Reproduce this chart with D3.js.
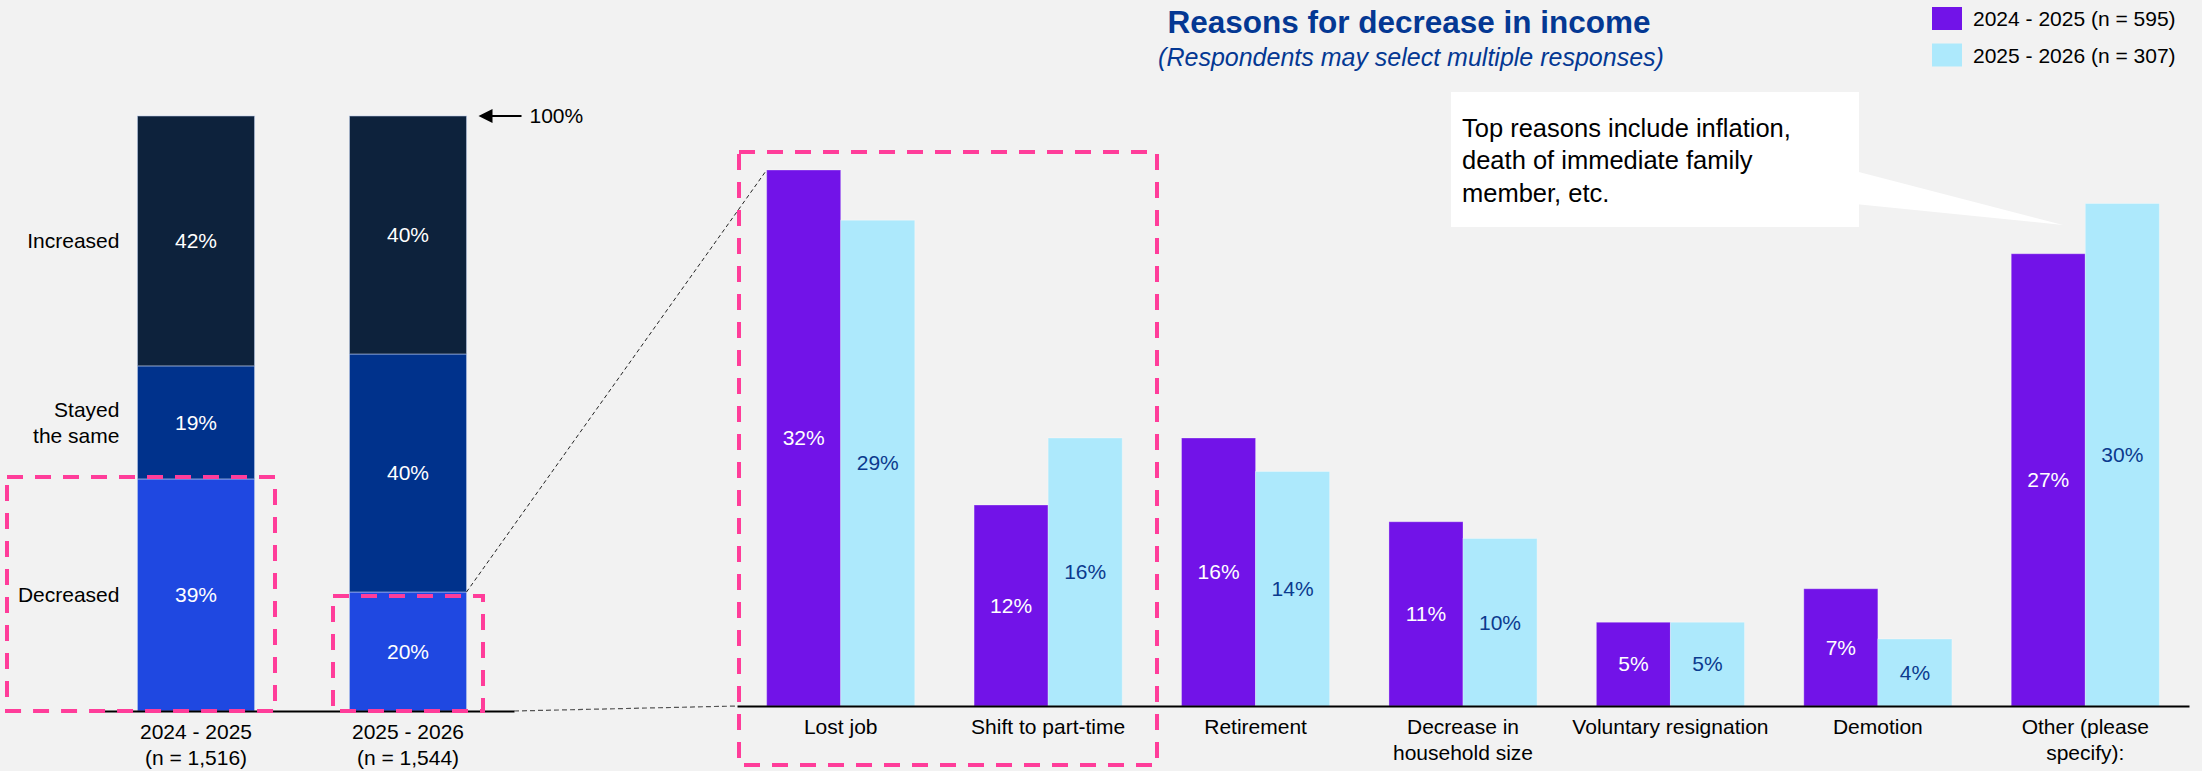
<!DOCTYPE html>
<html>
<head>
<meta charset="utf-8">
<script src="https://cdn.jsdelivr.net/npm/d3@7"></script>
<style>
  html, body { margin: 0; padding: 0; background: #f2f2f2; }
  svg { display: block; font-family: 'Liberation Sans', Arial, Helvetica, sans-serif; }
</style>
</head>
<body>
<svg id="chart" width="2202" height="771"></svg>
<script>
// ---- Change in household income by survey period (stacked shares, %) ----
const periods = ["2024 - 2025", "2025 - 2026"];
const periodSamples = ["(n = 1,516)", "(n = 1,544)"];
const changeLevels = ["Decreased", "Stayed\nthe same", "Increased"];   // bottom to top
const decreasedShare = [39, 20];
const stayedShare = [19, 40];
const increasedShare = [42, 40];

// ---- Reasons for decrease in income (multiple responses, %) ----
const reasons = ["Lost job", "Shift to part-time", "Retirement", "Decrease in\nhousehold size",
                 "Voluntary resignation", "Demotion", "Other (please\nspecify):"];
const seriesNames = ["2024 - 2025 (n = 595)", "2025 - 2026 (n = 307)"];
const reasons2425 = [32, 12, 16, 11, 5, 7, 27];
const reasons2526 = [29, 16, 14, 10, 5, 4, 30];
const calloutLines = ["Top reasons include inflation,", "death of immediate family", "member, etc."];

const svg = d3.select("#chart");
svg.append("rect").attr("width", 2202).attr("height", 771).attr("fill", "#f2f2f2");

const PINK = "#FF3D9A";
const FS = 21;

// ================= Left: stacked 100% bars =================
const xL = d3.scaleBand().domain(periods).range([90, 514]).paddingInner(0.448).paddingOuter(0.224);
const yL = d3.scaleLinear().domain([0, 100]).range([711, 116]);
const levelColor = d3.scaleOrdinal().domain(changeLevels).range(["#1F48E1", "#00328C", "#0D223C"]);

const stackRows = periods.map((p, i) => ({
  period: p,
  [changeLevels[0]]: decreasedShare[i],
  [changeLevels[1]]: stayedShare[i],
  [changeLevels[2]]: increasedShare[i]
}));
const stacked = d3.stack().keys(changeLevels)(stackRows);

const left = svg.append("g");
const layer = left.selectAll("g.layer").data(stacked).join("g").attr("class", "layer")
  .attr("fill", d => levelColor(d.key));
layer.selectAll("rect").data(d => d).join("rect")
  .attr("x", d => xL(d.data.period))
  .attr("y", d => yL(d[1]))
  .attr("width", xL.bandwidth())
  .attr("height", d => yL(d[0]) - yL(d[1]))
  .attr("stroke", "rgba(190,205,235,0.55)")
  .attr("stroke-width", 1);
layer.selectAll("text").data(d => d).join("text")
  .attr("x", d => xL(d.data.period) + xL.bandwidth() / 2)
  .attr("y", d => (yL(d[0]) + yL(d[1])) / 2)
  .attr("dy", "0.35em")
  .attr("text-anchor", "middle")
  .attr("fill", "#ffffff")
  .attr("font-size", FS)
  .text(d => (d[1] - d[0]) + "%");

// category labels beside the first column
const firstCol = stacked.map(s => s[0]);
left.selectAll("text.level").data(stacked).join("text").attr("class", "level")
  .attr("x", xL(periods[0]) - 18)
  .attr("y", d => (yL(d[0][0]) + yL(d[0][1])) / 2)
  .attr("text-anchor", "end")
  .attr("font-size", FS)
  .attr("fill", "#000")
  .each(function (d) {
    const lines = d.key.split("\n");
    const t = d3.select(this);
    lines.forEach((ln, k) => {
      t.append("tspan").attr("x", xL(periods[0]) - 18)
        .attr("dy", k === 0 ? (0.35 - (lines.length - 1) * 0.62) + "em" : "1.24em")
        .text(ln);
    });
  });

// bottom axis
const axL = left.append("g").attr("transform", `translate(0,${yL(0)})`)
  .call(d3.axisBottom(xL).tickSize(0).tickSizeOuter(0));
axL.attr("font-size", FS).attr("font-family", null).style("color", "#000");
axL.select(".domain").attr("stroke", "#000").attr("stroke-width", 2);
axL.selectAll(".tick text").attr("dy", null).attr("y", null).text(null)
  .each(function (d, i) {
    const t = d3.select(this);
    [d, periodSamples[i]].forEach((ln, k) => {
      t.append("tspan").attr("x", 0).attr("y", 21 + k * 25.5).attr("dy", "0.35em").text(ln);
    });
  });

// 100% marker
const topY = yL(100);
const arrowX = xL(periods[1]) + xL.bandwidth() + 12;
left.append("path")
  .attr("d", `M${arrowX},${topY} l14,-7 v14 z`).attr("fill", "#000");
left.append("line").attr("x1", arrowX + 10).attr("x2", arrowX + 43)
  .attr("y1", topY).attr("y2", topY).attr("stroke", "#000").attr("stroke-width", 2);
left.append("text").attr("x", arrowX + 51).attr("y", topY).attr("dy", "0.35em")
  .attr("font-size", FS).attr("fill", "#000").text("100%");

// ================= Right: grouped bars =================
const xR = d3.scaleBand().domain(reasons).range([737, 2189]).paddingInner(0.286).paddingOuter(0.143);
const xSub = d3.scaleBand().domain(seriesNames).range([0, xR.bandwidth()]);
const yR = d3.scaleLinear().domain([0, 35]).range([706, 119.75]);
const seriesColor = d3.scaleOrdinal().domain(seriesNames).range(["#7213E8", "#ADE9FC"]);
const labelColor = d3.scaleOrdinal().domain(seriesNames).range(["#ffffff", "#0B3A8E"]);

const rows = reasons.map((r, i) => ({ reason: r, values: [reasons2425[i], reasons2526[i]] }));
const right = svg.append("g");

// zoom connector lines between the two panels
svg.append("line")
  .attr("x1", xL(periods[1]) + xL.bandwidth()).attr("y1", yL(decreasedShare[1]))
  .attr("x2", xR(reasons[0])).attr("y2", yR(reasons2425[0]))
  .attr("stroke", "#222").attr("stroke-width", 1).attr("stroke-dasharray", "4,3");
svg.append("line")
  .attr("x1", 514).attr("y1", yL(0))
  .attr("x2", 737).attr("y2", yR(0))
  .attr("stroke", "#555").attr("stroke-width", 1.2).attr("stroke-dasharray", "5,3");

const grp = right.selectAll("g.grp").data(rows).join("g").attr("class", "grp")
  .attr("transform", d => `translate(${xR(d.reason)},0)`);
grp.selectAll("rect").data(d => d.values.map((v, j) => ({ s: seriesNames[j], v })))
  .join("rect")
  .attr("x", d => xSub(d.s))
  .attr("y", d => yR(d.v))
  .attr("width", xSub.bandwidth())
  .attr("height", d => yR(0) - yR(d.v))
  .attr("fill", d => seriesColor(d.s))
  .attr("stroke", "rgba(255,255,255,0.3)")
  .attr("stroke-width", 1);
grp.selectAll("text").data(d => d.values.map((v, j) => ({ s: seriesNames[j], v })))
  .join("text")
  .attr("x", d => xSub(d.s) + xSub.bandwidth() / 2)
  .attr("y", d => (yR(d.v) + yR(0)) / 2)
  .attr("dy", "0.35em")
  .attr("text-anchor", "middle")
  .attr("font-size", FS)
  .attr("fill", d => labelColor(d.s))
  .text(d => d.v + "%");

const axR = right.append("g").attr("transform", `translate(0,${yR(0)})`)
  .call(d3.axisBottom(xR).tickSize(0).tickSizeOuter(0));
axR.attr("font-size", FS).attr("font-family", null).style("color", "#000");
axR.select(".domain").attr("stroke", "#000").attr("stroke-width", 2);
axR.selectAll(".tick text").attr("dy", null).attr("y", null).text(null)
  .each(function (d) {
    const t = d3.select(this);
    d.split("\n").forEach((ln, k) => {
      t.append("tspan").attr("x", 0).attr("y", 21 + k * 26).attr("dy", "0.35em").text(ln);
    });
  });

// ================= Highlight boxes =================
const hl = svg.append("g").attr("fill", "none").attr("stroke", PINK)
  .attr("stroke-width", 4).attr("stroke-dasharray", "16,12");
hl.append("rect").attr("x", 7).attr("y", yL(decreasedShare[0]) - 2)
  .attr("width", 268).attr("height", yL(0) - yL(decreasedShare[0]) + 2);
hl.append("rect").attr("x", 333).attr("y", yL(decreasedShare[1]) + 4)
  .attr("width", 150).attr("height", yL(0) - yL(decreasedShare[1]) - 4);
hl.append("rect").attr("x", 739).attr("y", yR(reasons2425[0]) - 18)
  .attr("width", 418).attr("height", 765 - (yR(reasons2425[0]) - 18));

// ================= Title & legend =================
svg.append("text").attr("x", 1409).attr("y", 33).attr("text-anchor", "middle")
  .attr("font-size", 31.5).attr("font-weight", "bold").attr("fill", "#043893")
  .text("Reasons for decrease in income");
svg.append("text").attr("x", 1411).attr("y", 66).attr("text-anchor", "middle")
  .attr("font-size", 25).attr("font-style", "italic").attr("fill", "#043893")
  .text("(Respondents may select multiple responses)");

const legend = svg.append("g").attr("transform", "translate(1932,7)");
const li = legend.selectAll("g").data(seriesNames).join("g")
  .attr("transform", (d, i) => `translate(0,${i * 36.5})`);
li.append("rect").attr("width", 30).attr("height", 23).attr("fill", d => seriesColor(d));
li.append("text").attr("x", 41).attr("y", 12).attr("dy", "0.35em")
  .attr("font-size", FS).attr("fill", "#000").text(d => d);

// ================= Callout =================
const callout = svg.append("g");
callout.append("path")
  .attr("d", "M1855,171 L2063,225 L1855,204 Z").attr("fill", "#fff");
callout.append("rect").attr("x", 1451).attr("y", 92).attr("width", 408).attr("height", 135)
  .attr("fill", "#fff");
callout.selectAll("text").data(calloutLines).join("text")
  .attr("x", 1462).attr("y", (d, i) => 128 + i * 32.5).attr("dy", "0.35em")
  .attr("font-size", 25.5).attr("fill", "#000").text(d => d);
</script>
</body>
</html>
